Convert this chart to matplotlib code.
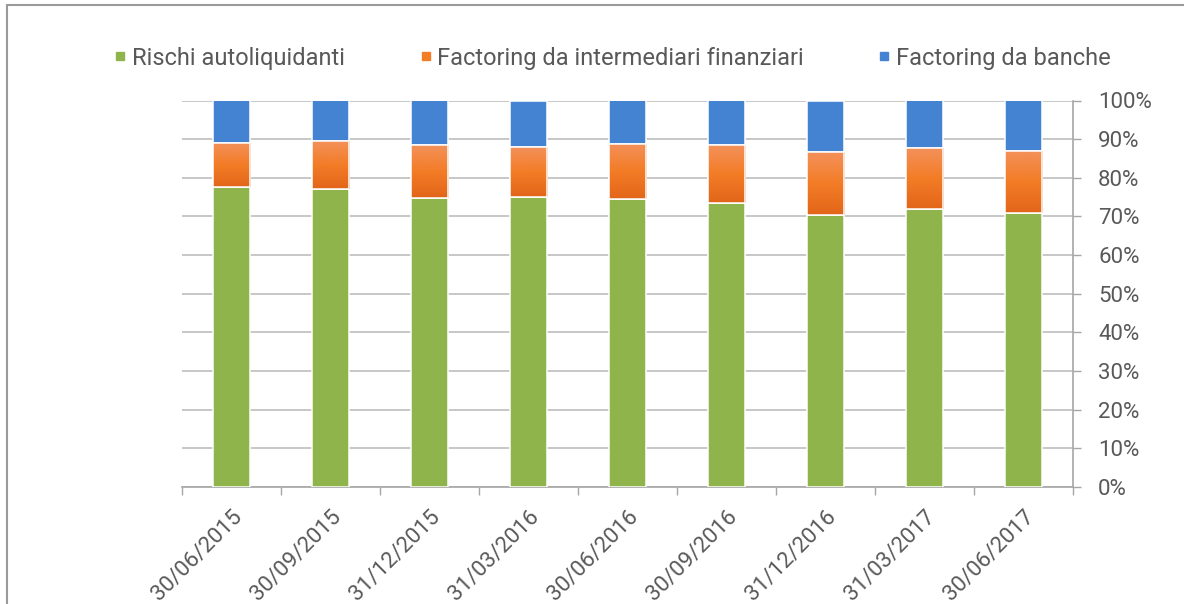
import numpy as np
import matplotlib.pyplot as plt
from matplotlib.lines import Line2D
from matplotlib.patches import Rectangle
from matplotlib.colors import LinearSegmentedColormap

plt.rcParams['font.family'] = ['Roboto', 'DejaVu Sans']

# dati (quote % sul totale)
date = ['30/06/2015', '30/09/2015', '31/12/2015', '31/03/2016', '30/06/2016',
        '30/09/2016', '31/12/2016', '31/03/2017', '30/06/2017']
rischi_autoliquidanti = [77.5, 77.1, 74.8, 75.1, 74.4, 73.5, 70.5, 71.9, 70.8]
factoring_intermediari = [11.5, 12.3, 13.6, 12.9, 14.3, 14.9, 16.2, 15.7, 16.1]
factoring_banche = [11.0, 10.6, 11.6, 12.0, 11.3, 11.6, 13.3, 12.4, 13.1]

verde = '#8fb44b'
blu = '#4383d2'
arancio = LinearSegmentedColormap.from_list('arancio', ['#e2661a', '#f37c26', '#f3915a'])
grigio_testo = '#595959'

fig = plt.figure(figsize=(11.84, 6.04), dpi=100)
ax = fig.add_axes([182 / 1184, 1 - 487 / 604, (1073 - 182) / 1184, (487 - 100.5) / 604])

x = np.arange(len(date))
w = 0.375
bottom2 = np.array(rischi_autoliquidanti)
bottom3 = bottom2 + np.array(factoring_intermediari)

ax.bar(x, rischi_autoliquidanti, w, color=verde, edgecolor='white', linewidth=1.1, zorder=3)
orange_bars = ax.bar(x, factoring_intermediari, w, bottom=bottom2, color='#f37c26',
                     edgecolor='white', linewidth=1.1, zorder=3)
ax.bar(x, factoring_banche, w, bottom=bottom3, color=blu, edgecolor='white', linewidth=1.1, zorder=3)

# gradiente sulle barre arancioni
grad = np.linspace(0, 1, 100).reshape(-1, 1)
for b in orange_bars:
    x0, y0 = b.get_x(), b.get_y()
    im = ax.imshow(grad, extent=[x0, x0 + b.get_width(), y0, y0 + b.get_height()],
                   origin='lower', aspect='auto', cmap=arancio, zorder=3.5)
    im.set_clip_path(b)
    edge = Rectangle((x0, y0), b.get_width(), b.get_height(), fill=False,
                     edgecolor='white', linewidth=1.1, zorder=3.6)
    ax.add_patch(edge)

ax.set_xlim(-0.5, len(date) - 0.5)
ax.set_ylim(0, 100)

# asse y a destra
ax.yaxis.tick_right()
ax.set_yticks(np.arange(0, 101, 10))
ax.set_yticklabels([f'{v}%' for v in range(0, 101, 10)])
ax.tick_params(axis='y', length=6, width=1, color='#a6a6a6', pad=12,
               labelsize=16, labelcolor=grigio_testo)
ax.grid(axis='y', color='#bdbdbd', linewidth=1.2, zorder=0)

# asse x
ax.set_xticks(x)
ax.set_xticklabels(date, rotation=45, ha='right', va='top', rotation_mode='anchor')
ax.set_xticks(np.arange(-0.5, len(date), 1), minor=True)
ax.tick_params(axis='x', which='major', length=0, pad=14, labelsize=16, labelcolor=grigio_testo)
ax.tick_params(axis='x', which='minor', length=6, width=1, color='#a6a6a6')

for s in ['top', 'left']:
    ax.spines[s].set_visible(False)
ax.spines['right'].set_color('#a6a6a6')
ax.spines['bottom'].set_color('#a6a6a6')
ax.spines['right'].set_linewidth(1.2)
ax.spines['bottom'].set_linewidth(1.2)

# legenda
handles = [Line2D([], [], marker='s', linestyle='none', markersize=6, color=c)
           for c in [verde, '#f37c26', blu]]
fig.legend(handles, ['Rischi autoliquidanti', 'Factoring da intermediari finanziari', 'Factoring da banche'],
           loc='center', bbox_to_anchor=(0.517, 1 - 58 / 604), ncol=3, frameon=False,
           fontsize=17, labelcolor=grigio_testo, handlelength=0.6, handletextpad=0.2,
           columnspacing=3.1)

# cornice
fig.add_artist(Rectangle((7 / 1184, -0.1), 1.2, 1 - 5.5 / 604 + 0.1, transform=fig.transFigure,
                         fill=False, edgecolor='#9a9a9a', linewidth=1.5))

fig.savefig('out.png', dpi=100)
